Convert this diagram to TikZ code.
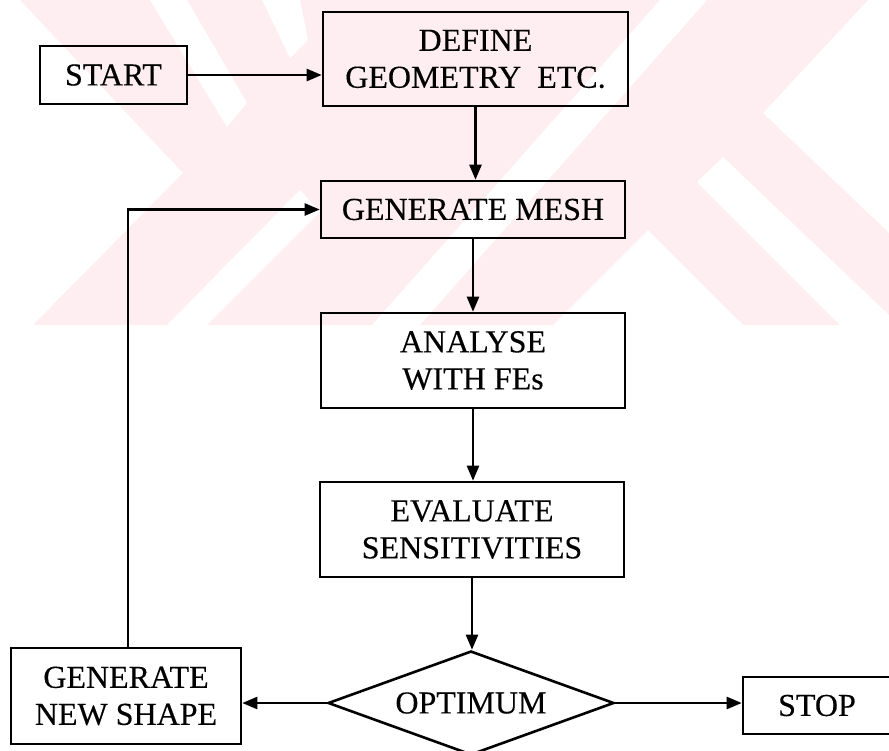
\documentclass[tikz,border=0pt]{standalone}
\usepackage{fontspec}
\setmainfont{Liberation Serif}[FakeBold=0.3]
\usetikzlibrary{shapes.geometric,arrows.meta}
\definecolor{wmpink}{RGB}{254,238,241}
\begin{document}
\begin{tikzpicture}[x=1pt,y=-1pt,
  box/.style={draw, line width=2.6pt, inner sep=0pt, align=center,
    font=\fontsize{32}{37}\selectfont},
  flow/.style={line width=2.4pt, -{Triangle[length=15pt,width=12pt]}}]
\useasboundingbox (0,0) rectangle (889,750);
% faint watermark
\fill[wmpink] (20,0) -- (868,0) -- (763,113) -- (889,233) -- (889,325)
  -- (33,325) -- (183,173) -- cycle;
\fill[white] (150,0) -- (187,0) -- (247,103) -- (227,127) -- cycle;
\fill[white] (262,0) -- (300,0) -- (308,40) -- (290,58) -- cycle;
\fill[white] (167,325) -- (207,325) -- (320,212) -- (300,190) -- cycle;
\fill[white] (372,325) -- (420,325) -- (707,0) -- (660,0) -- cycle;
\fill[white] (723,157) -- (889,315) -- (889,325) -- (840,325) -- (697,182) -- cycle;
\fill[white] (648,230) -- (743,325) -- (553,325) -- cycle;
% nodes
\node[box, minimum width=147pt, minimum height=58pt] (start) at (113.5,75) {START};
\node[box, minimum width=305pt, minimum height=94pt] (define) at (475.5,59) {DEFINE\\GEOMETRY\ \ ETC.};
\node[box, minimum width=304pt, minimum height=57pt] (mesh) at (473,209.5) {GENERATE MESH};
\node[box, minimum width=304pt, minimum height=95pt] (analyse) at (473,360.5) {ANALYSE\\WITH FEs};
\node[box, minimum width=304pt, minimum height=95pt] (eval) at (472,529.5) {EVALUATE\\SENSITIVITIES};
\node[box, diamond, shape aspect=2.75, minimum width=286pt, minimum height=104pt] (opt) at (471,703) {OPTIMUM};
\node[box, minimum width=230pt, minimum height=96pt] (gns) at (126,696) {GENERATE\\NEW SHAPE};
\node[box, minimum width=148pt, minimum height=57pt] (stop) at (817,705.5) {STOP};
% connectors
\draw[flow] (start.east) -- (start.east -| define.west);
\draw[flow] (define.south) -- (define.south |- mesh.north);
\draw[flow] (mesh.south) -- (analyse.north);
\draw[flow] (analyse.south) -- (analyse.south |- eval.north);
\draw[flow] (eval.south) -- (eval.south |- opt.north);
\draw[flow] (opt.west) -- (opt.west -| gns.east);
\draw[flow] (opt.east) -- (opt.east -| stop.west);
\draw[flow] ([xshift=2pt]gns.north) |- (mesh.west);
\end{tikzpicture}
\end{document}
